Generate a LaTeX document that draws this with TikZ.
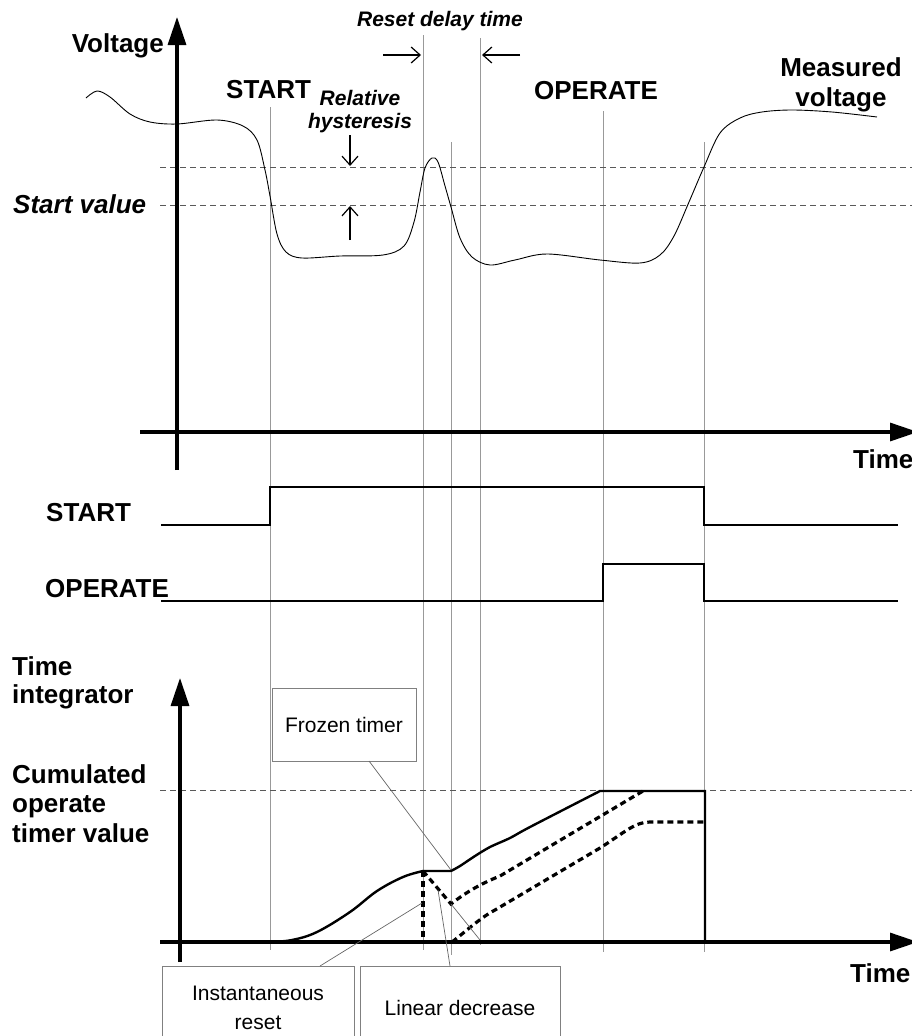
\documentclass[tikz,border=0pt]{standalone}
\usepackage{fontspec}
\setmainfont{Liberation Sans}
\usetikzlibrary{arrows.meta}
\begin{document}
\begin{tikzpicture}[x=1pt,y=-1pt,
  biglab/.style={font=\fontsize{26}{30}\selectfont\bfseries, inner sep=0pt},
  itlab/.style={font=\fontsize{21}{25}\selectfont\bfseries\itshape, inner sep=0pt},
  boxtext/.style={font=\fontsize{21}{29}\selectfont, align=center, draw=black!50, line width=0.7pt, fill=white, inner sep=0pt},
  guide/.style={draw=black!40, line width=0.7pt},
  level/.style={draw=black!65, line width=0.7pt, dash pattern=on 6pt off 4pt},
  axis/.style={line width=3.2pt, -{Triangle[length=28pt,width=18pt]}},
  signal/.style={line width=2.2pt},
  curve/.style={line width=0.9pt},
  timer/.style={line width=2.4pt},
  timerdash/.style={line width=3.2pt, dash pattern=on 6pt off 4pt},
  thinarrow/.style={line width=1.2pt, -{Straight Barb[length=9pt,width=16pt]}},
  leader/.style={draw=black!60, line width=0.7pt}
]
\useasboundingbox (0,0) rectangle (912,1036);
\clip (0,0) rectangle (912,1036);

% vertical guide lines
\coordinate (g1t) at (270,107); \coordinate (g1b) at (270,950);
\coordinate (g2t) at (423,35);  \coordinate (g2b) at (423,950);
\coordinate (g3t) at (451,142); \coordinate (g3b) at (451,955);
\coordinate (g4t) at (480,38);  \coordinate (g4b) at (480,945);
\coordinate (g5t) at (603,111); \coordinate (g5b) at (603,952);
\coordinate (g6t) at (704,142); \coordinate (g6b) at (704,952);
\foreach \i in {1,...,6} { \draw[guide] (g\i t) -- (g\i b); }

% level lines
\coordinate (h1a) at (160,167); \coordinate (h1b) at (912,167);
\coordinate (h2a) at (160,205); \coordinate (h2b) at (912,205);
\coordinate (h3a) at (160,790); \coordinate (h3b) at (912,790);
\draw[level] (h1a) -- (h1b);
\draw[level] (h2a) -- (h2b);
\draw[level] (h3a) -- (h3b);

% top axes
\coordinate (vyb) at (177,470); \coordinate (vyt) at (177,17);
\coordinate (vxl) at (140,432); \coordinate (vxr) at (918,432);
\draw[axis] (vyb) -- (vyt);
\draw[axis] (vxl) -- (vxr);

% measured voltage
\draw[curve] plot[smooth, tension=0.55] coordinates {
(86,98) (97,91) (110,97) (130,114) (150,122) (177,124) (217,120) (243,126)
(257,140) (265,170) (270,196) (277,234) (286,252) (302,258) (340,256) (383,255)
(404,246) (414,222) (420,192) (425,168) (432,158) (438,162) (445,186) (451,207)
(460,238) (472,257) (490,265) (515,260) (547,254) (600,260) (640,263) (660,255)
(674,236) (689,202) (704,167) (720,133) (740,118) (762,112) (792,110) (832,112) (877,117)};

% labels top
\node[biglab, anchor=base east] (lvolt) at (164,52) {Voltage};
\node[biglab, anchor=base west] (lstart) at (226,98) {START};
\node[itlab, anchor=base] (lrel) at (360,105) {Relative};
\node[itlab, anchor=base] (lhys) at (360,128) {hysteresis};
\node[itlab, anchor=base] (lrdt) at (440,26) {Reset delay time};
\node[biglab, anchor=base] (lop) at (596,99) {OPERATE};
\node[biglab, anchor=base] (lmeas) at (841,76) {Measured};
\node[biglab, anchor=base] (lmv) at (841,106) {voltage};
\node[biglab, anchor=base west] (lsv) at (13,213) {\itshape Start value};
\node[biglab, anchor=base west] (ltime1) at (853,468) {Time};

% small arrows
\coordinate (ha1) at (350,135); \coordinate (ha2) at (350,166);
\coordinate (hb1) at (350,240); \coordinate (hb2) at (350,206);
\draw[thinarrow] (ha1) -- (ha2);
\draw[thinarrow] (hb1) -- (hb2);
\coordinate (ra1) at (383,55); \coordinate (ra2) at (421,55);
\coordinate (rb1) at (520,55); \coordinate (rb2) at (482,55);
\draw[thinarrow] (ra1) -- (ra2);
\draw[thinarrow] (rb1) -- (rb2);

% signals
\node[biglab, anchor=base west] (sstart) at (46,521) {START};
\node[biglab, anchor=base west] (sop) at (45,597) {OPERATE};
\coordinate (s0) at (161,525); \coordinate (s1) at (898,525);
\draw[signal] (s0) -- (270,525) -- (270,487) -- (704,487) -- (704,525) -- (s1);
\coordinate (o0) at (161,601); \coordinate (o1) at (898,601);
\draw[signal] (o0) -- (603,601) -- (603,564) -- (704,564) -- (704,601) -- (o1);

% bottom axes
\coordinate (tyb) at (180,962); \coordinate (tyt) at (180,678);
\coordinate (txl) at (160,942); \coordinate (txr) at (918,942);
\draw[axis] (tyb) -- (tyt);
\draw[axis] (txl) -- (txr);
\node[biglab, anchor=base west] (lti1) at (12,675) {Time};
\node[biglab, anchor=base west] (lti2) at (12,703) {integrator};
\node[biglab, anchor=base west] (lc1) at (12,783) {Cumulated};
\node[biglab, anchor=base west] (lc2) at (12,812) {operate};
\node[biglab, anchor=base west] (lc3) at (12,842) {timer value};
\node[biglab, anchor=base west] (ltime2) at (850,982) {Time};

% timer curves
\coordinate (fr0) at (423,871); \coordinate (fr1) at (451,871);
\coordinate (ld0) at (451,904);
\draw[timer] plot[smooth, tension=0.6] coordinates {(270,942) (292,940) (317,932) (350,912) (377,891) (403,877) (423,871)}
  -- (fr1)
  plot[smooth, tension=0.5] coordinates {(451,871) (460,866) (475,856) (490,847) (510,838) (530,827) (600,791)}
  -- (705,791) -- (705,942);
\draw[timerdash] (fr0) -- (ld0) .. controls (465,893) and (480,884) .. (500,876) -- (643,791);
\draw[timerdash] (fr0) -- (423,942);
\draw[timerdash] (452,942) .. controls (465,932) and (480,918) .. (495,910) -- (600,848) .. controls (625,832) and (635,822) .. (650,822) -- (705,822);
\coordinate (ldz) at (480,940);
\draw[leader] (ld0) -- (ldz);

% annotation boxes
\node[boxtext, minimum width=144pt, minimum height=73pt] (bfroz) at (344,724.5) {Frozen timer};
\node[boxtext, minimum width=192pt, minimum height=84pt] (binst) at (258,1008) {Instantaneous\\reset};
\node[boxtext, minimum width=200pt, minimum height=84pt] (blin) at (460,1008) {Linear decrease};
\coordinate (pf) at (451,870);
\coordinate (pi) at (422,903);
\coordinate (pl) at (438,890);
\draw[leader] (369,761) -- (pf);
\draw[leader] (320,966) -- (pi);
\draw[leader] (450,966) -- (pl);
\end{tikzpicture}
\end{document}
